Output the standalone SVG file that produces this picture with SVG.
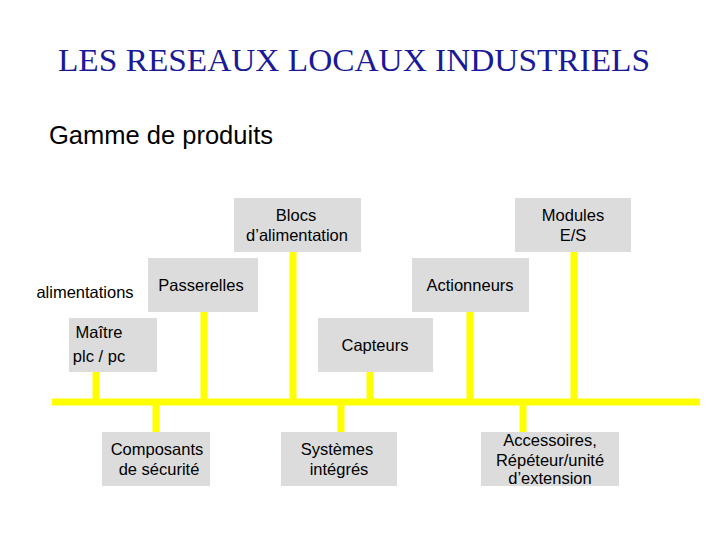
<svg xmlns="http://www.w3.org/2000/svg" width="720" height="540" viewBox="0 0 720 540">
<style>
.b{fill:#dcdcdc}
.t{font-family:"Liberation Sans",Arial,sans-serif;font-size:16.5px;fill:#000;text-anchor:middle}
.y{stroke:#ffff00;stroke-width:7;fill:none}
</style>
<rect width="720" height="540" fill="#fff"/>
<text x="354" y="71" font-family="Liberation Serif,serif" font-size="31" fill="#1a1a99" text-anchor="middle" textLength="592" lengthAdjust="spacingAndGlyphs">LES RESEAUX LOCAUX INDUSTRIELS</text>
<text x="49" y="144" font-family="Liberation Sans,sans-serif" font-size="25" textLength="224" lengthAdjust="spacingAndGlyphs">Gamme de produits</text>
<g id="connectors">
<path class="y" d="M52 402H700M293 252V402M574 252V402M204 312V402M470 312V402M96 372V402M370 372V402M156 402V432M341 402V432M523 402V432"/>
</g>
<g id="blocs"><rect class="b" x="234" y="198" width="127" height="54"/><text class="t" x="296" y="221">Blocs</text><text class="t" x="297" y="241">d’alimentation</text></g>
<g id="modules"><rect class="b" x="515" y="198" width="116" height="54"/><text class="t" x="573" y="221">Modules</text><text class="t" x="573" y="241">E/S</text></g>
<g id="alimentations"><text class="t" x="85" y="298">alimentations</text></g>
<g id="passerelles"><rect class="b" x="148" y="258" width="110" height="54"/><text class="t" x="201" y="291">Passerelles</text></g>
<g id="actionneurs"><rect class="b" x="412" y="258" width="117" height="54"/><text class="t" x="470" y="291">Actionneurs</text></g>
<g id="maitre"><rect class="b" x="69" y="318" width="88" height="54"/><text class="t" x="99" y="338">Maître</text><text class="t" x="99" y="362">plc / pc</text></g>
<g id="capteurs"><rect class="b" x="318" y="318" width="115" height="54"/><text class="t" x="375" y="351">Capteurs</text></g>
<g id="composants"><rect class="b" x="102" y="432" width="108" height="54"/><text class="t" x="157" y="455">Composants</text><text class="t" x="159" y="475">de sécurité</text></g>
<g id="systemes"><rect class="b" x="281" y="432" width="116" height="54"/><text class="t" x="337" y="455">Systèmes</text><text class="t" x="339" y="475">intégrés</text></g>
<g id="accessoires"><rect class="b" x="481" y="432" width="138" height="54"/><text class="t" x="550" y="446">Accessoires,</text><text class="t" x="550" y="466">Répéteur/unité</text><text class="t" x="550" y="484">d’extension</text></g>
</svg>
